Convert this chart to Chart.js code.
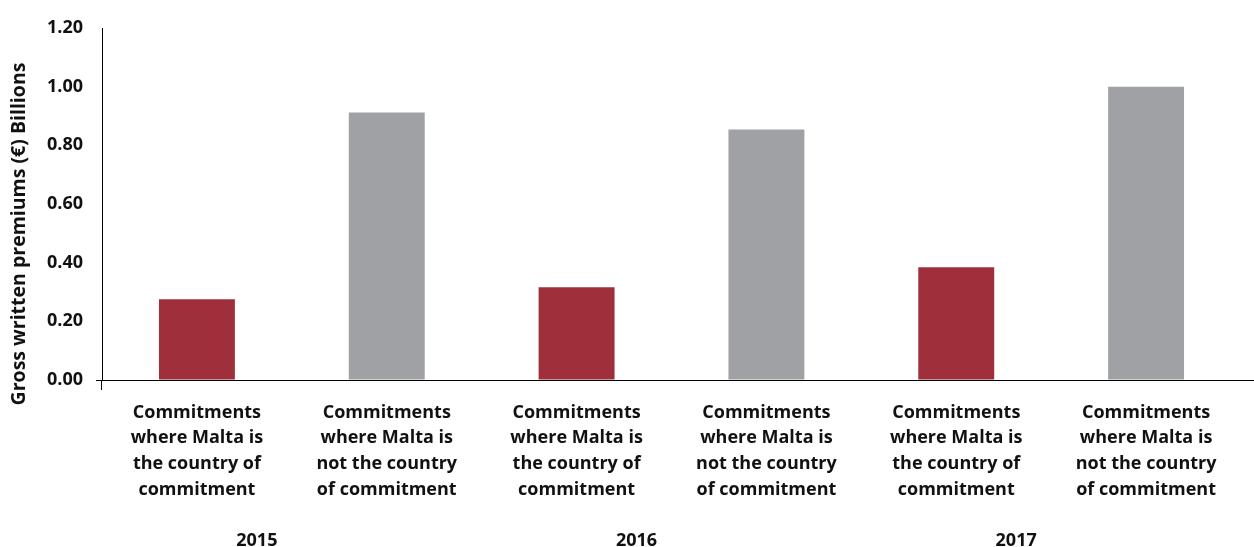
<!DOCTYPE html>
<html>
<head>
<meta charset="utf-8">
<script src="https://cdn.jsdelivr.net/npm/chart.js@4"></script>
<style>
  html, body { margin: 0; padding: 0; background: #fff; }
  #wrap { width: 1254px; height: 547px; }
</style>
</head>
<body>
<div id="wrap"><canvas id="c" width="1254" height="547"></canvas></div>
<script>
// Gross written premiums by place of commitment, 2015-2017 (EUR billions)
const years = ['2015', '2016', '2017'];
const categories = [
  ['Commitments', 'where Malta is', 'the country of', 'commitment'],
  ['Commitments', 'where Malta is', 'not the country', 'of commitment'],
  ['Commitments', 'where Malta is', 'the country of', 'commitment'],
  ['Commitments', 'where Malta is', 'not the country', 'of commitment'],
  ['Commitments', 'where Malta is', 'the country of', 'commitment'],
  ['Commitments', 'where Malta is', 'not the country', 'of commitment']
];
const premiums = [0.275, 0.912, 0.316, 0.854, 0.384, 1.00];
const yTicks = [0, 0.2, 0.4, 0.6, 0.8, 1.0, 1.2];
const yTitle = 'Gross written premiums (€) Billions';

const RED = '#9e2f3b';
const GREY = '#a0a1a5';
const barColors = premiums.map((v, i) => (i % 2 === 0 ? RED : GREY));
const FONT = "'Open Sans', 'DejaVu Sans', sans-serif";

// y-axis title and the x-axis line running on past the last category
const extras = {
  id: 'extras',
  afterDraw(chart) {
    const ctx = chart.ctx;
    const area = chart.chartArea;
    const y0 = chart.scales.y.getPixelForValue(0);
    ctx.save();
    ctx.strokeStyle = '#000';
    ctx.lineWidth = 1;
    ctx.beginPath();
    ctx.moveTo(area.right, Math.round(y0) + 0.5);
    ctx.lineTo(chart.width, Math.round(y0) + 0.5);
    ctx.stroke();

    ctx.translate(19, 234);
    ctx.rotate(-Math.PI / 2);
    ctx.fillStyle = '#111';
    ctx.font = "bold 19.5px " + FONT;
    ctx.textAlign = 'center';
    ctx.textBaseline = 'middle';
    ctx.fillText(yTitle, 0, 0);
    ctx.restore();
  }
};

new Chart(document.getElementById('c'), {
  type: 'bar',
  data: {
    labels: categories,
    datasets: [{
      data: premiums,
      backgroundColor: barColors,
      borderWidth: 0,
      barPercentage: 0.4,
      categoryPercentage: 1.0
    }]
  },
  options: {
    responsive: false,
    animation: false,
    devicePixelRatio: 1,
    layout: { padding: { top: 28, right: 13, left: 0, bottom: 0 } },
    plugins: {
      legend: { display: false },
      tooltip: { enabled: false }
    },
    scales: {
      x: {
        position: 'bottom',
        offset: true,
        afterFit(scale) { scale.height = 122; },
        grid: {
          drawOnChartArea: false,
          drawTicks: true,
          tickLength: 10,
          color: (c) => (c.index === 0 ? '#000' : 'rgba(0,0,0,0)')
        },
        border: { display: true, color: '#000', width: 1 },
        ticks: {
          color: '#111',
          font: { family: FONT, size: 18, weight: 'bold', lineHeight: 1.42 },
          padding: 10,
          maxRotation: 0,
          minRotation: 0,
          autoSkip: false
        }
      },
      x2: {
        type: 'category',
        labels: years,
        position: 'bottom',
        offset: true,
        afterFit(scale) { scale.height = 45; },
        grid: { display: false, drawTicks: false },
        border: { display: false },
        ticks: {
          color: '#111',
          font: { family: FONT, size: 18, weight: 'bold', lineHeight: 1.2 },
          padding: 28,
          labelOffset: -35,
          maxRotation: 0
        }
      },
      y: {
        min: 0,
        max: 1.2,
        afterFit(scale) { scale.width = 102; },
        afterBuildTicks(scale) { scale.ticks = yTicks.map(v => ({ value: v })); },
        grid: {
          drawOnChartArea: false,
          drawTicks: true,
          tickLength: 6,
          color: (c) => (c.tick && c.tick.value === 0 ? '#000' : 'rgba(0,0,0,0)')
        },
        border: { display: true, color: '#000', width: 1 },
        ticks: {
          color: '#111',
          font: { family: FONT, size: 18, weight: 'bold' },
          padding: 13,
          callback: (v) => Number(v).toFixed(2)
        }
      }
    }
  },
  plugins: [extras]
});
</script>
</body>
</html>
